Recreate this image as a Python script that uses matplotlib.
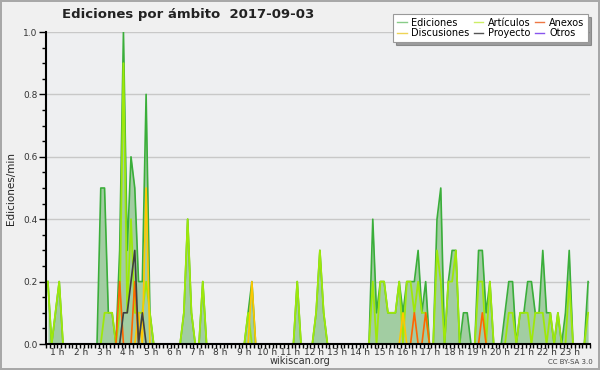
import matplotlib
matplotlib.use('Agg')
import matplotlib.pyplot as plt
from matplotlib.lines import Line2D
import numpy as np

# valores cada 10 minutos (144 puntos), una fila por hora
ediciones = [
    0.2, 0, 0.1, 0.2, 0, 0,          # 0 h
    0, 0, 0, 0, 0, 0,                # 1 h
    0, 0, 0.5, 0.5, 0.1, 0.1,        # 2 h
    0, 0.3, 1.0, 0.3, 0.6, 0.5,      # 3 h
    0.2, 0.2, 0.8, 0.1, 0, 0,        # 4 h
    0, 0, 0, 0, 0, 0,                # 5 h
    0.1, 0.4, 0.1, 0, 0, 0.2,        # 6 h
    0, 0, 0, 0, 0, 0,                # 7 h
    0, 0, 0, 0, 0, 0.1,              # 8 h
    0.2, 0, 0, 0, 0, 0,              # 9 h
    0, 0, 0, 0, 0, 0,                # 10 h
    0.2, 0, 0, 0, 0, 0.1,            # 11 h
    0.3, 0.1, 0, 0, 0, 0,            # 12 h
    0, 0, 0, 0, 0, 0,                # 13 h
    0, 0, 0.4, 0.1, 0.2, 0.2,        # 14 h
    0.1, 0.1, 0.1, 0.2, 0.1, 0.2,    # 15 h
    0.2, 0.2, 0.3, 0.1, 0.2, 0,      # 16 h
    0, 0.4, 0.5, 0, 0.2, 0.3,        # 17 h
    0.3, 0, 0.1, 0.1, 0, 0,          # 18 h
    0.3, 0.3, 0.1, 0.2, 0, 0,        # 19 h
    0, 0.1, 0.2, 0.2, 0, 0.1,        # 20 h
    0.1, 0.2, 0.2, 0.1, 0.1, 0.3,    # 21 h
    0.1, 0.1, 0, 0.1, 0, 0.1,        # 22 h
    0.3, 0, 0, 0, 0, 0.2,            # 23 h
]

articulos = [
    0.2, 0, 0.1, 0.2, 0, 0,
    0, 0, 0, 0, 0, 0,
    0, 0, 0, 0.1, 0.1, 0.1,
    0, 0.1, 0.9, 0.1, 0.4, 0.1,
    0.1, 0.1, 0.2, 0.1, 0, 0,
    0, 0, 0, 0, 0, 0,
    0.1, 0.4, 0.1, 0, 0, 0.2,
    0, 0, 0, 0, 0, 0,
    0, 0, 0, 0, 0, 0.1,
    0, 0, 0, 0, 0, 0,
    0, 0, 0, 0, 0, 0,
    0.2, 0, 0, 0, 0, 0.1,
    0.3, 0.1, 0, 0, 0, 0,
    0, 0, 0, 0, 0, 0,
    0, 0, 0.2, 0, 0.2, 0.2,
    0.1, 0.1, 0.1, 0.2, 0, 0.2,
    0.2, 0.1, 0.2, 0.1, 0.1, 0,
    0, 0.3, 0.2, 0, 0.2, 0.2,
    0.3, 0, 0, 0, 0, 0,
    0.2, 0.2, 0, 0.2, 0, 0,
    0, 0, 0.1, 0.1, 0, 0.1,
    0.1, 0.1, 0, 0.1, 0.1, 0.1,
    0, 0.1, 0, 0.1, 0, 0,
    0.2, 0, 0, 0, 0, 0.1,
]

discusiones = [0] * 144
discusiones[24] = 0.1
discusiones[26] = 0.5
discusiones[54] = 0.2
discusiones[94] = 0.1

proyecto = [0] * 144
proyecto[20:27] = [0.1, 0.1, 0.2, 0.3, 0, 0.1, 0]

anexos = [0] * 144
anexos[19] = 0.2
anexos[23] = 0.2
anexos[97] = 0.1
anexos[100] = 0.1
anexos[115] = 0.1

otros = [0] * 144

hour_labels = ['%d h' % h for h in range(1, 24)]

x = (np.arange(144) + 0.5) / 6.0

fig = plt.figure(figsize=(6, 3.7), dpi=100)
fig.patch.set_facecolor('#f0f0f0')
fig.patch.set_edgecolor('#a8a8a8')
fig.patch.set_linewidth(1.5)

ax = fig.add_axes([46 / 600, 26 / 370, 544 / 600, 312 / 370])
ax.set_facecolor('#eeeff1')
ax.set_xlim(0, 24)
ax.set_ylim(0, 1.0)

ax.fill_between(x, ediciones, color='#a2cda2', lw=0, zorder=2)
ax.plot(x, ediciones, color='#3aae3a', lw=1.2, zorder=3)
ax.plot(x, otros, color='#9944ee', lw=1.2, zorder=3)
ax.plot(x, articulos, color='#9ee80a', lw=1.3, zorder=4)
ax.plot(x, discusiones, color='#ffc800', lw=1.2, zorder=4)
ax.plot(x, anexos, color='#ff6600', lw=1.2, zorder=5)
ax.plot(x, proyecto, color='#404040', lw=1.2, zorder=5)

# eje y
ax.set_yticks(np.arange(0, 1.01, 0.2))
ax.set_yticks(np.arange(0, 1.01, 0.05), minor=True)
ax.set_yticklabels(['%.1f' % v for v in np.arange(0, 1.01, 0.2)])
ax.yaxis.grid(True, color='#c8c8c8', lw=1)
ax.set_axisbelow(True)
ax.tick_params(axis='y', which='major', length=5, width=1, labelsize=6.5,
               pad=1, labelcolor='#333333')
ax.tick_params(axis='y', which='minor', length=3, width=1)

# eje x: regla cada 10 min, etiquetas de hora
ax.set_xticks(np.arange(0, 24.01, 1 / 6.0), minor=True)
ax.set_xticks([1.028 * h - 0.52 for h in range(1, 24)])
ax.set_xticklabels(hour_labels)
ax.tick_params(axis='x', which='major', length=0, labelsize=6.5, pad=3,
               labelcolor='#333333')
ax.tick_params(axis='x', which='minor', length=3, width=1)

for s in ['top', 'right']:
    ax.spines[s].set_visible(False)
for s in ['left', 'bottom']:
    ax.spines[s].set_linewidth(1.5)
    ax.spines[s].set_zorder(10)

fig.text(0.314, 0.962, 'Ediciones por ámbito  2017-09-03', ha='center',
         va='center', fontsize=9.5, fontweight='bold', color='#222222')
fig.text(0.018, 0.49, 'Ediciones/min', rotation=90, ha='center',
         va='center', fontsize=7.5, color='#222222')
fig.text(0.5, 0.024, 'wikiscan.org', ha='center', va='center',
         fontsize=7, color='#333333')
fig.text(0.95, 0.021, 'CC BY-SA 3.0', ha='center', va='center',
         fontsize=5, color='#444444')

handles = [Line2D([], [], color='#88cc88', lw=1),
           Line2D([], [], color='#eed455', lw=1),
           Line2D([], [], color='#ccee66', lw=1),
           Line2D([], [], color='#555555', lw=1),
           Line2D([], [], color='#ee7744', lw=1),
           Line2D([], [], color='#8855ee', lw=1)]
labels = ['Ediciones', 'Discusiones', 'Artículos', 'Proyecto', 'Anexos', 'Otros']
leg = fig.legend(handles, labels, ncol=3, loc='upper right',
                 bbox_to_anchor=(0.988, 0.975), fontsize=7, frameon=True,
                 fancybox=False, shadow=True, edgecolor='#999999',
                 facecolor='white', handlelength=1.0, handletextpad=0.5,
                 columnspacing=0.4, borderpad=0.35, labelspacing=0.1)
leg.get_frame().set_linewidth(0.8)

fig.savefig('out.png', dpi=100, facecolor=fig.get_facecolor(),
            edgecolor=fig.get_edgecolor())
